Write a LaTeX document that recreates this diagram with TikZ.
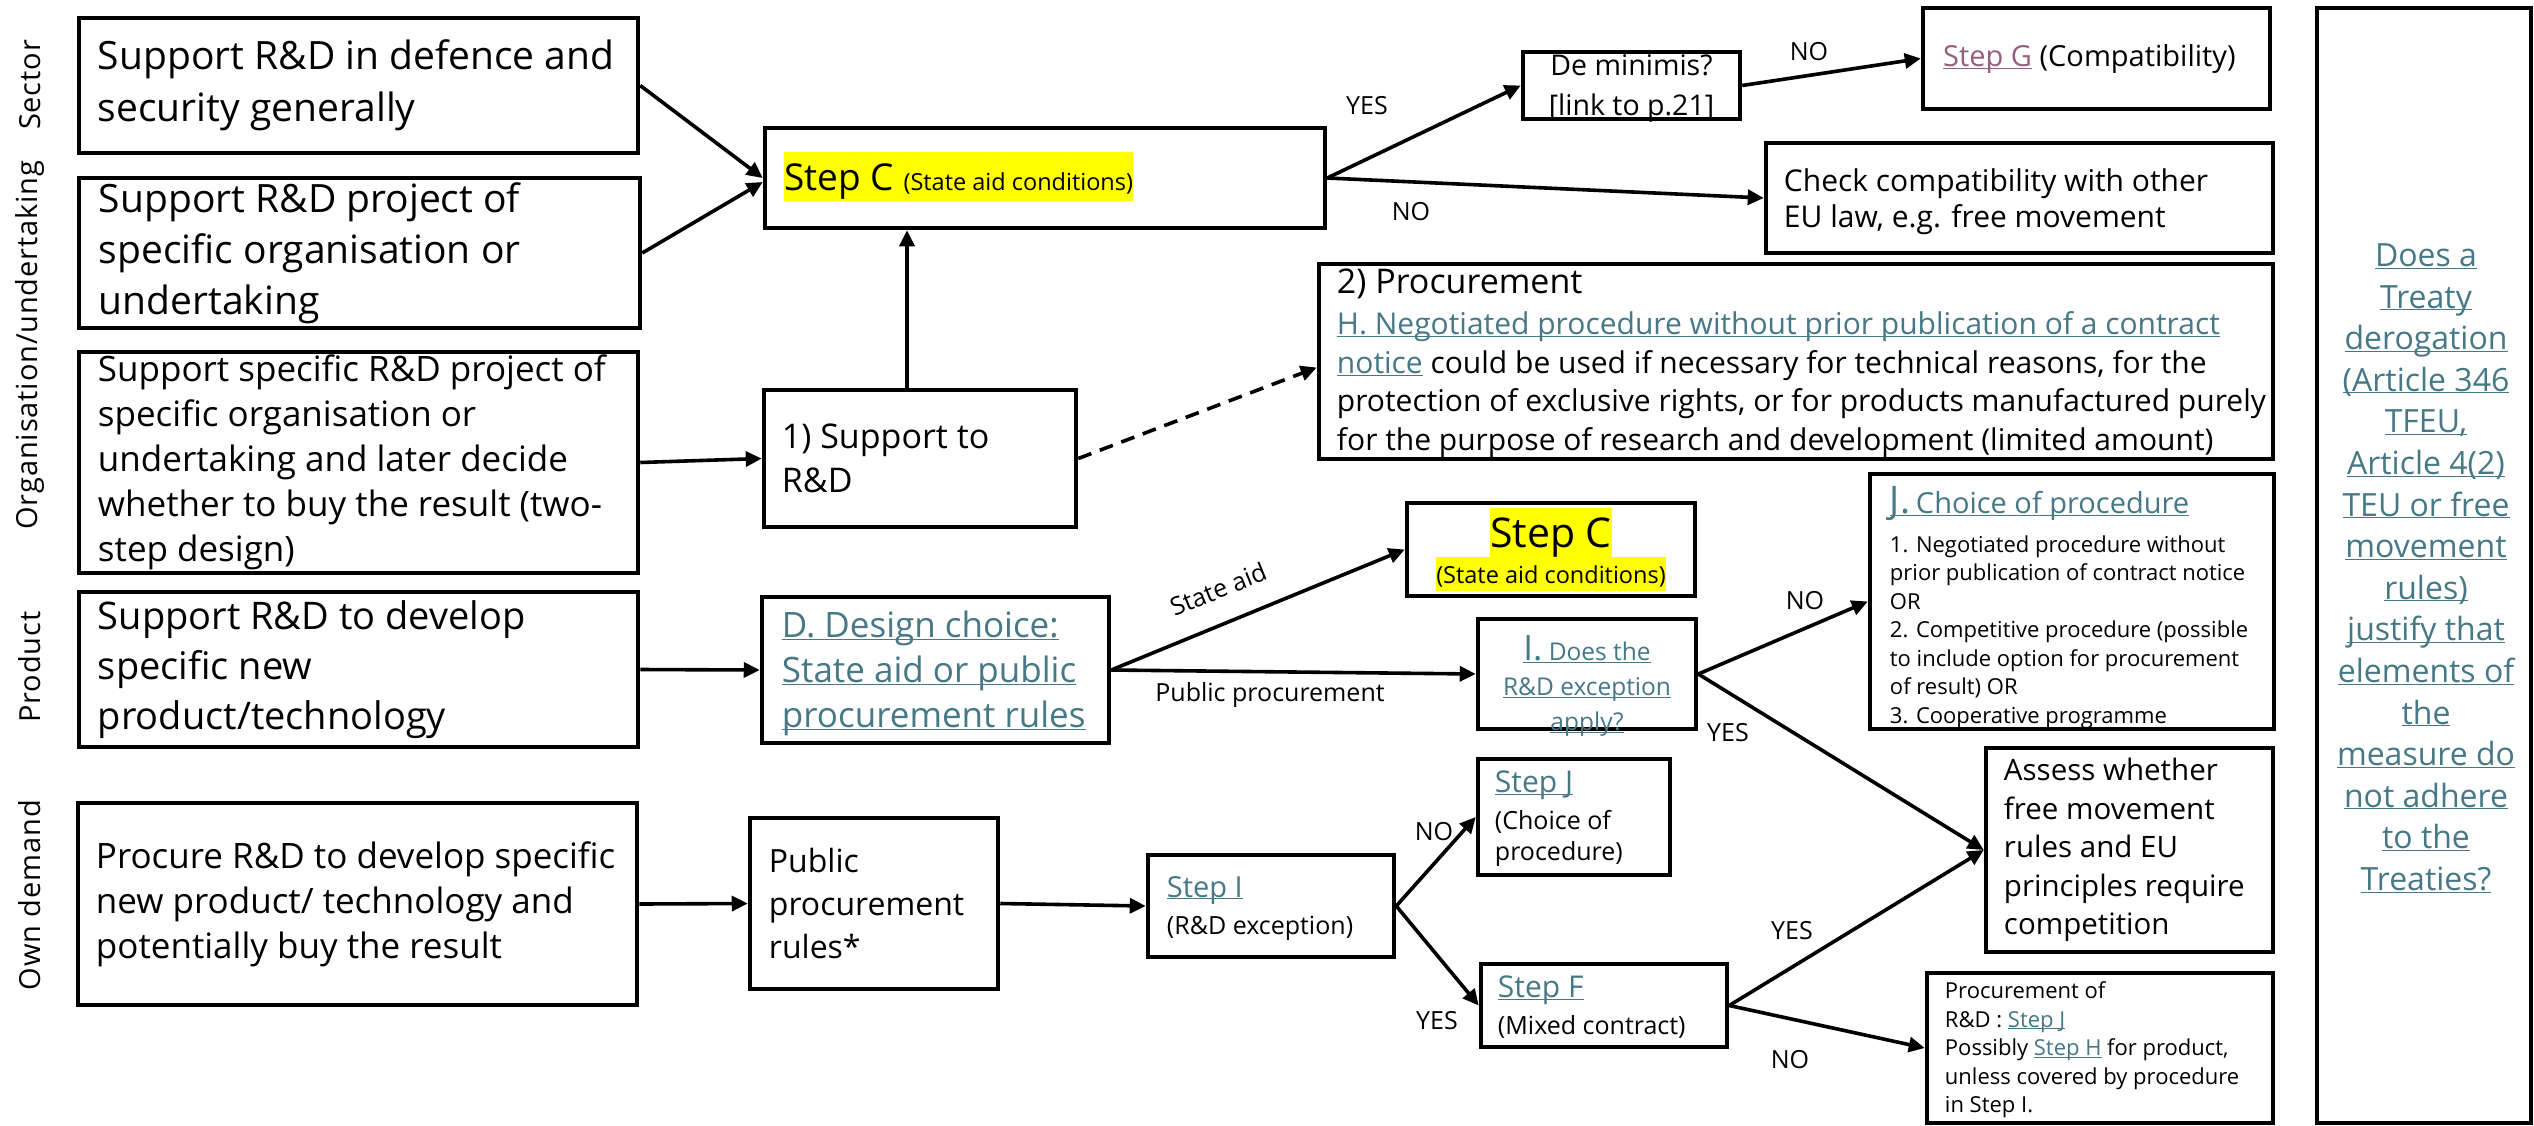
\documentclass[tikz,border=0pt]{standalone}
\usepackage{fontspec}
\setmainfont{Open Sans}
\newfontfamily\lanefont[LetterSpace=3]{Open Sans}
\usetikzlibrary{arrows.meta,calc}
\definecolor{linkc}{HTML}{467886}
\definecolor{visc}{HTML}{96607D}
\definecolor{hly}{HTML}{FFFF00}
\newcommand\ulc[2]{\textcolor{#1}{\setbox0\hbox{#2}\dp0=0pt\underline{\box0}}}
\newcommand\lk[1]{\ulc{linkc}{#1}}
\newcommand\mkbox[5]{\node[box,minimum width={#4-#2},minimum height={#5-#3}] (#1) at ({(#2+#4)/2},{(#3+#5)/2}) {};}
\newcommand\fs[2]{\fontsize{#1}{#2}\selectfont}
\begin{document}
\begin{tikzpicture}[x=1pt,y=-1pt,
 box/.style={draw,line width=4.5pt,inner sep=0pt},
 txt/.style={inner sep=0pt,align=left,anchor=west},
 arr/.style={line width=3.6pt,-{Triangle[length=16pt,width=15pt]}},
 lbl/.style={inner sep=0pt,font=\fs{25}{30}},
 lane/.style={inner sep=0pt,rotate=90,font=\lanefont\fs{29}{34}},
 hl/.style={fill=hly,inner sep=0pt}]
\fill[white] (0,0) rectangle (2534,1125);
\useasboundingbox (0,0) rectangle (2534,1125);

% lane labels
\node[lane] (lsec) at (30,85) {Sector};
\node[lane] (lorg) at (30,345) {Organisation/undertaking};
\node[lane] (lprod) at (30,667) {Product};
\node[lane] (lown) at (30,895) {Own demand};

% boxes
\mkbox{b1}{79}{18}{638}{153}
\mkbox{b2}{79}{178}{640}{328}
\mkbox{b3}{79}{352}{638}{573}
\mkbox{b4}{79}{592}{638}{747}
\mkbox{b5}{78}{803}{637}{1005}
\mkbox{stepc}{765}{128}{1325}{228}
\mkbox{support}{764}{390}{1076}{527}
\mkbox{dbox}{762}{597}{1109}{743}
\mkbox{ppr}{750}{818}{998}{989}
\mkbox{demin}{1523}{52}{1740}{119}
\mkbox{stepg}{1923}{8}{2270}{109}
\mkbox{check}{1766}{143}{2273}{253}
\mkbox{proc2}{1319}{264}{2273}{459}
\mkbox{stepc2}{1407}{503}{1695}{596}
\mkbox{ibox}{1478}{619}{1696}{729}
\mkbox{jbox}{1870}{474}{2274}{729}
\mkbox{stepi}{1148}{855}{1394}{957}
\mkbox{stepj}{1478}{759}{1670}{875}
\mkbox{stepf}{1481}{964}{1727}{1047}
\mkbox{assess}{1986}{748}{2273}{952}
\mkbox{procrd}{1927}{973}{2273}{1123}
\mkbox{treaty}{2317}{8}{2531}{1123}

% texts
\node[txt,font=\fs{39}{52}] (b1t) at ($(b1.west)+(21,0)$) {Support R\&D in defence and\\security generally};
\node[txt,font=\fs{39}{51}] (b2t) at ($(b2.west)+(22,0)$) {Support R\&D project of\\specific organisation or\\undertaking};
\node[txt,font=\fs{35}{45}] (b3t) at ($(b3.west)+(21,0)$) {Support specific R\&D project of\\specific organisation or\\undertaking and later decide\\whether to buy the result (two-\\step design)};
\node[txt,font=\fs{38}{50}] (b4t) at ($(b4.west)+(21,0)$) {Support R\&D to develop\\specific new\\product/technology};
\node[txt,font=\fs{35}{45}] (b5t) at ($(b5.west)+(20,0)$) {Procure R\&D to develop specific\\new product/ technology and\\potentially buy the result};
\node[hl,text height=38pt,text depth=11pt,anchor=base west] (stepct) at (784,190) {{\fs{37}{40}Step C }{\fs{23.5}{28}(State aid conditions)}};
\node[txt,font=\fs{34}{44}] (supportt) at ($(support.west)+(20,0)$) {1) Support to\\R\&D};
\node[txt,font=\fs{35}{45}] (dboxt) at ($(dbox.west)+(22,0)$) {\lk{D. Design choice:}\\\lk{State aid or public}\\\lk{procurement rules}};
\node[txt,font=\fs{32}{43}] (pprt) at ($(ppr.west)+(21,0)$) {Public\\procurement\\rules*};
\node[inner sep=0pt,align=center,font=\fs{28.5}{40}] (demint) at ($(demin.center)+(0,3)$) {De minimis?\\{[}link to p.21{]}};
\node[txt,font=\fs{29}{34}] (stepgt) at (1943,59) {\ulc{visc}{Step G} (Compatibility)};
\node[txt,font=\fs{30}{36}] (checkt) at ($(check.west)+(20,4)$) {Check compatibility with other\\EU law, e.g. free movement};
\node[txt,font=\fs{30}{38.5}] (proc2t) at ($(proc2.west)+(20,2)$) {{\fs{34}{40}2) Procurement}\\[2.5pt]\lk{H. Negotiated procedure without prior publication of a contract}\\\lk{notice} could be used if necessary for technical reasons, for the\\protection of exclusive rights, or for products manufactured purely\\for the purpose of research and development (limited amount)};
\node[hl,text height=39pt,text depth=10pt,anchor=base,font=\fs{41}{44}] (stepc2a) at (1551,547) {Step C};
\node[hl,text height=26pt,text depth=8pt,anchor=base,font=\fs{23.5}{28}] (stepc2b) at (1551,583) {(State aid conditions)};
\node[inner sep=0pt,align=center,font=\fs{24.5}{35}] (iboxt) at (1587,684) {\lk{{\fs{35}{35}I.} Does the}\\\lk{R\&D exception}\\\lk{apply?}};
\node[txt,font=\fs{22}{28.5}] (jboxt) at ($(jbox.west)+(22,6)$) {\lk{{\fs{38}{40}J.} {\fs{29}{34}Choice of procedure}}\\[10pt]1. Negotiated procedure without\\prior publication of contract notice\\OR\\2. Competitive procedure (possible\\to include option for procurement\\of result) OR\\3. Cooperative programme};
\node[txt,font=\fs{25}{31}] (stepit) at ($(stepi.west)+(21,2)$) {\lk{\fs{29}{31}Step I}\\[6pt](R\&D exception)};
\node[txt,font=\fs{25}{31}] (stepjt) at ($(stepj.west)+(19,2)$) {\lk{\fs{30}{31}Step J}\\[6pt](Choice of\\procedure)};
\node[txt,font=\fs{25}{31}] (stepft) at ($(stepf.west)+(19,2)$) {\lk{\fs{30}{31}Step F}\\[6pt](Mixed contract)};
\node[txt,font=\fs{29.5}{38.5}] (assesst) at ($(assess.west)+(20,0)$) {Assess whether\\free movement\\rules and EU\\principles require\\competition};
\node[txt,font=\fs{22}{28.5}] (procrdt) at ($(procrd.west)+(20,2)$) {Procurement of\\R\&D : \lk{Step J}\\Possibly \lk{Step H} for product,\\unless covered by procedure\\in Step I.};
\node[inner sep=0pt,align=center,font=\fs{32}{41.6}] (treatyt) at (2426,568) {\lk{Does a}\\\lk{Treaty}\\\lk{derogation}\\\lk{(Article 346}\\\lk{TFEU,}\\\lk{Article 4(2)}\\\lk{TEU or free}\\\lk{movement}\\\lk{rules)}\\\lk{justify that}\\\lk{elements of}\\\lk{the}\\\lk{measure do}\\\lk{not adhere}\\\lk{to the}\\\lk{Treaties?}};

% connectors
\draw[arr] (b1.east) -- (stepc.west);
\draw[arr] (b2.east) -- ($(stepc.west)+(0,4)$);
\draw[arr] (b3.east) -- (support.west);
\draw[arr] ([xshift=-13pt]support.north) -- ([xshift=-13pt]support.north |- stepc.south);
\draw[arr,dash pattern=on 14pt off 9pt] (support.east) -- ($(proc2.west)+(0,6)$);
\draw[arr] (b4.east) -- (dbox.west);
\draw[arr] (dbox.east) -- (stepc2.west);
\draw[arr] (dbox.east) -- (ibox.west);
\draw[arr] (stepc.east) -- (demin.west);
\draw[arr] (stepc.east) -- (check.west);
\draw[arr] (demin.east) -- (stepg.west);
\draw[arr] (ibox.east) -- (jbox.west);
\draw[arr] (ibox.east) -- (assess.west);
\draw[arr] (b5.east) -- (ppr.west);
\draw[arr] (ppr.east) -- (stepi.west);
\draw[arr] (stepi.east) -- (stepj.west);
\draw[arr] (stepi.east) -- (stepf.west);
\draw[arr] (stepf.east) -- (assess.west);
\draw[arr] (stepf.east) -- (procrd.west);

% edge labels
\node[lbl] (l1) at (1367,106) {YES};
\node[lbl] (l2) at (1411,212) {NO};
\node[lbl] (l3) at (1809,52) {NO};
\node[lbl,rotate=22] (l4) at (1218,589) {State aid};
\node[lbl] (l5) at (1270,695) {Public procurement};
\node[lbl] (l6) at (1805,601) {NO};
\node[lbl] (l7) at (1728,733) {YES};
\node[lbl] (l8) at (1434,832) {NO};
\node[lbl] (l9) at (1437,1021) {YES};
\node[lbl] (l10) at (1792,931) {YES};
\node[lbl] (l11) at (1790,1060) {NO};
\end{tikzpicture}
\end{document}
